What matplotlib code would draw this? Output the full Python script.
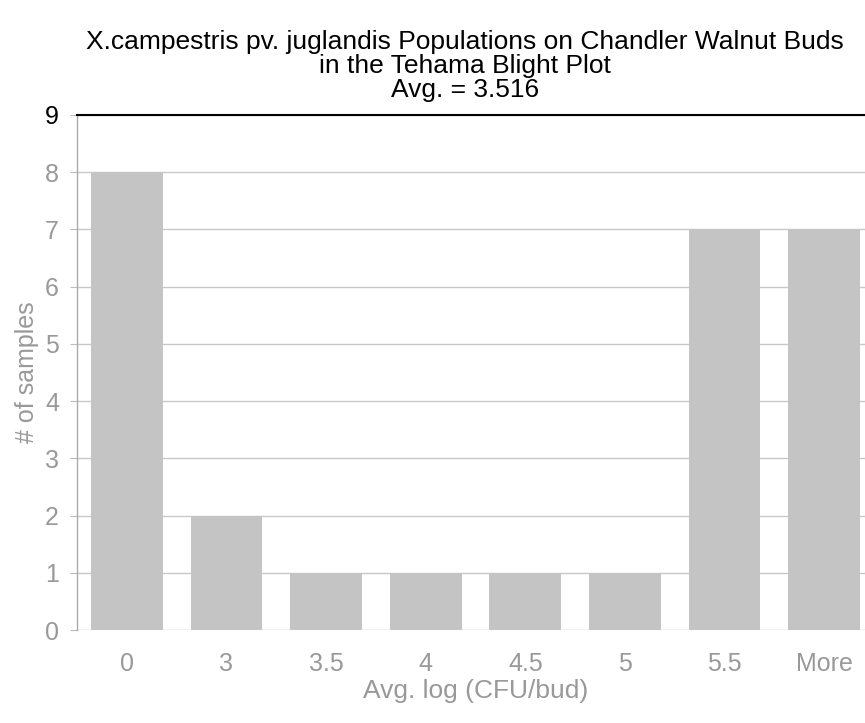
import matplotlib
matplotlib.use("Agg")
import matplotlib.pyplot as plt
import numpy as np

categories = ["0", "3", "3.5", "4", "4.5", "5", "5.5", "More"]
counts = [8, 2, 1, 1, 1, 1, 7, 7]
yticks = list(range(0, 10))

plt.rcParams['font.family'] = ['Liberation Sans', 'DejaVu Sans']

fig = plt.figure(figsize=(8.65, 7.23), dpi=100)
ax = fig.add_axes([77/865, 93/723, 797/865, 515/723])

x = np.arange(len(categories))
ax.bar(x, counts, width=0.72, color='#c4c4c4', edgecolor='none', zorder=2)

ax.set_xlim(-0.5, len(categories) - 0.5)
ax.set_ylim(0, 9)
ax.set_yticks(yticks)
ax.set_yticklabels([str(v) for v in yticks], fontsize=18, color='#999999')
ax.get_yticklabels()[-1].set_color('black')
ax.set_xticks(x)
ax.set_xticklabels(categories, fontsize=18, color='#999999')
ax.tick_params(axis='x', length=0, pad=16)
ax.tick_params(axis='y', length=5, color='#bbbbbb', pad=8)

ax.yaxis.grid(True, color='#c8c8c8', linewidth=1, zorder=1)
ax.set_axisbelow(True)

for s in ['right', 'bottom']:
    ax.spines[s].set_visible(False)
ax.spines['top'].set_color('black')
ax.spines['top'].set_linewidth(1.5)
ax.spines['left'].set_color('#aaaaaa')
ax.spines['left'].set_linewidth(1)

ax.set_xlabel("Avg. log (CFU/bud)", fontsize=19, color='#999999', labelpad=2)
ax.set_ylabel("# of samples", fontsize=18, color='#999999', labelpad=4)

fig.text(465/865, 1 - 42/723, "X.campestris pv. juglandis Populations on Chandler Walnut Buds",
         ha='center', va='center', fontsize=19)
fig.text(465/865, 1 - 66/723, "in the Tehama Blight Plot", ha='center', va='center', fontsize=19)
fig.text(465/865, 1 - 90/723, "Avg. = 3.516", ha='center', va='center', fontsize=19)

fig.savefig("out.png", dpi=100)
